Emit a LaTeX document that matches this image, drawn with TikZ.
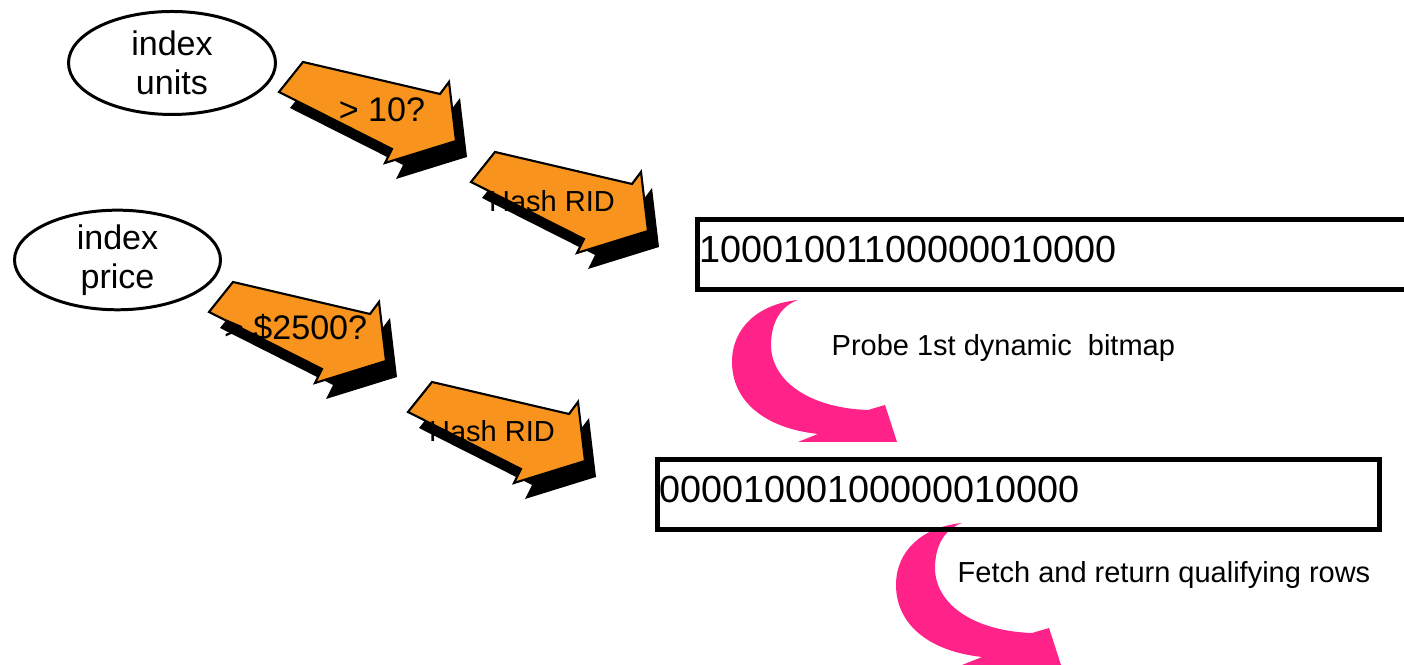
\documentclass[tikz,border=0pt]{standalone}
\usepackage{fontspec}
\setmainfont{Liberation Sans}
\usepackage{tikz}
\usetikzlibrary{shapes.geometric,positioning,calc}

\definecolor{arrowOrange}{RGB}{248,148,30}
\definecolor{probePink}{RGB}{255,34,136}

\tikzset{
  bigtext/.style={font=\fontsize{9.7}{11}\selectfont},
  smalltext/.style={font=\fontsize{8.25}{10}\selectfont},
  indexnode/.style={ellipse,draw,line width=0.85pt,inner sep=0pt,align=center,font=\fontsize{9.7}{11}\selectfont},
  bitbox/.style={draw,line width=1.42pt,anchor=north west,inner xsep=0.02cm,align=left,
    minimum height=0.70cm,text height=0.28cm,text depth=0.12cm,font=\fontsize{10.75}{13}\selectfont},
  pics/fatarrow/.style={code={
    \fill[black,shift={(0.11,-0.16)}] (0,0) -- (1.37,-0.32) -- (1.46,-0.20) -- (1.53,-0.79)
      -- (0.82,-1.01) -- (0.89,-0.87) -- (-0.24,-0.30) -- cycle;
    \draw[line width=0.6pt,fill=arrowOrange] (0,0) -- (1.37,-0.32) -- (1.46,-0.20) -- (1.53,-0.79)
      -- (0.82,-1.01) -- (0.89,-0.87) -- (-0.24,-0.30) -- cycle;
  }},
  pics/bendarrow/.style={code={
    \fill[probePink] (0,0) .. controls (-0.40,-0.04) and (-0.66,-0.28) .. (-0.66,-0.62)
      .. controls (-0.66,-1.00) and (-0.35,-1.28) .. (0.20,-1.34)
      -- (0,-1.42) -- (0.99,-1.42) -- (0.87,-1.05) -- (0.70,-1.10)
      .. controls (0.10,-1.08) and (-0.27,-0.80) .. (-0.27,-0.45)
      .. controls (-0.27,-0.22) and (-0.17,-0.06) .. (0,0) -- cycle;
  }}
}

\begin{document}
\begin{tikzpicture}[every node/.style={inner sep=0pt}]
\useasboundingbox (0,0) rectangle (14.04,6.65);
\clip (0,0) rectangle (14.04,6.65);

% the two index scans
\node[indexnode,minimum width=2.07cm,minimum height=1.03cm] (units) at (1.72,6.02) {index\\units};
\node[indexnode,minimum width=2.06cm,minimum height=0.97cm] (price) at (1.175,4.05) {index\\price};

% predicate and hash steps
\foreach \x/\y in {3.03/6.03,4.95/5.13,2.33/3.83,4.32/2.83}
  \pic at (\x,\y) {fatarrow};
\node[bigtext,anchor=base] (gt10) at (3.82,5.43) {> 10?};
\node[smalltext,anchor=base] (hash1) at (5.52,4.53) {Hash RID};
\node[bigtext,anchor=base] (gt2500) at (2.956,3.25) {> \$2500?};
\node[smalltext,anchor=base] (hash2) at (4.92,2.23) {Hash RID};

% dynamic bitmaps
\pic at (7.98,3.65) {bendarrow};
\pic at (9.62,1.42) {bendarrow};
\node[bitbox,text width=7.21cm] (bits1) at (6.95,4.475) {10001001100000010000};
\node[bitbox,text width=7.175cm] (bits2) at (6.55,2.075) {00001000100000010000};
\node[smalltext,anchor=base west] (probe) at (8.31,3.09) {Probe 1st dynamic\ \ bitmap};
\node[smalltext,anchor=base west] (fetch) at (9.57,0.82) {Fetch and return qualifying rows};
\end{tikzpicture}
\end{document}
